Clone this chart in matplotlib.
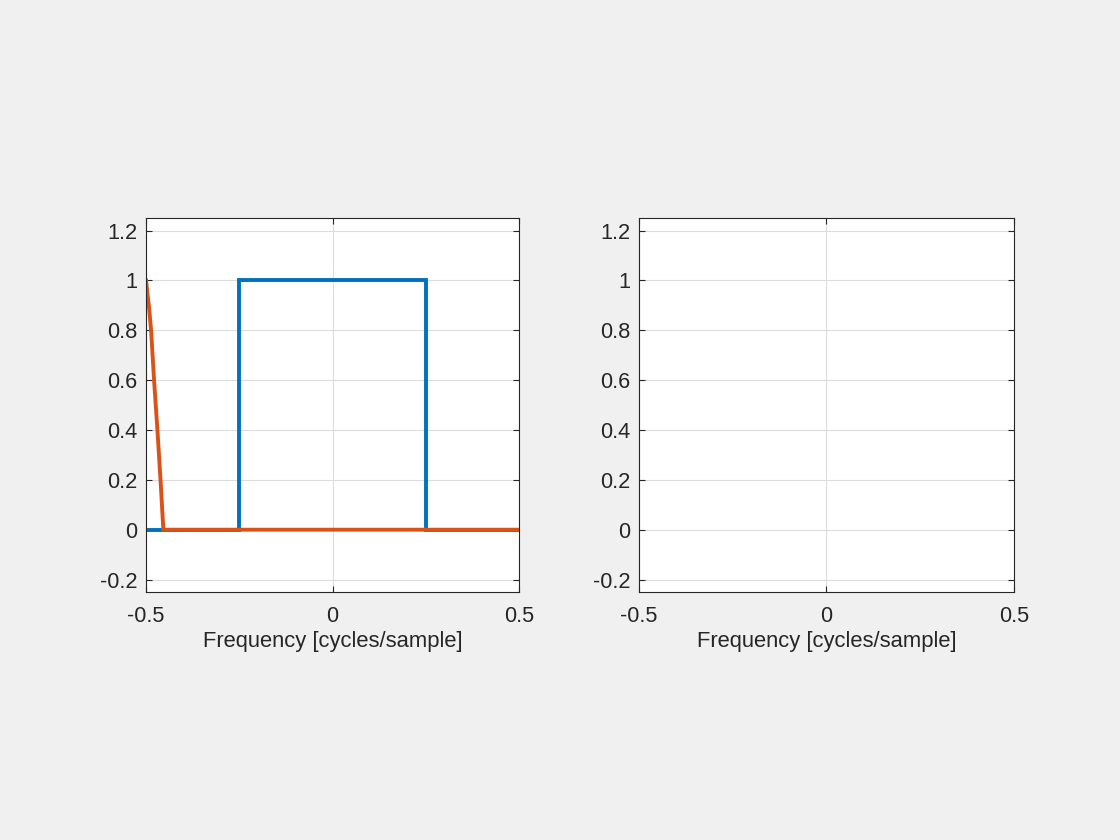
import matplotlib
matplotlib.use("Agg")
import matplotlib.pyplot as plt

# ideal band-pass (blue) outline
ideal_f = [-0.5, -0.25, -0.25, 0.25, 0.25, 0.5]
ideal_h = [0, 0, 1, 1, 0, 0]

# designed response (orange)
resp_f = [-0.5, -0.4985, -0.4965, -0.4925, -0.4865, -0.4785, -0.4695, -0.4612, -0.4536, 0.5]
resp_h = [1.0, 0.98, 0.95, 0.90, 0.80, 0.60, 0.40, 0.20, 0.0, 0.0]

x_ticks = [-0.5, 0, 0.5]
x_ticklabels = ["-0.5", "0", "0.5"]
y_ticks = [-0.2, 0, 0.2, 0.4, 0.6, 0.8, 1, 1.2]
y_ticklabels = ["-0.2", "0", "0.2", "0.4", "0.6", "0.8", "1", "1.2"]

BLUE = "#0072BD"
ORANGE = "#D95319"
DARK = "#262626"

plt.rcParams["font.family"] = ["Liberation Sans", "DejaVu Sans"]

fig = plt.figure(figsize=(11.2, 8.4), dpi=100, facecolor="#f0f0f0")
ax1 = fig.add_axes([0.1304, 0.2952, 0.333, 0.4452])
ax2 = fig.add_axes([0.5705, 0.2952, 0.3348, 0.4452])

ax1.plot(ideal_f, ideal_h, color=BLUE, lw=2.8, solid_joinstyle="miter")
ax1.plot(resp_f, resp_h, color=ORANGE, lw=2.8)

for ax in (ax1, ax2):
    ax.set_facecolor("white")
    ax.set_xlim(-0.5, 0.5)
    ax.set_ylim(-0.25, 1.25)
    ax.set_xticks(x_ticks)
    ax.set_xticklabels(x_ticklabels)
    ax.set_yticks(y_ticks)
    ax.set_yticklabels(y_ticklabels)
    ax.grid(True, color="#dcdcdc", lw=0.8)
    ax.set_axisbelow(True)
    ax.tick_params(direction="in", top=True, right=True, length=4,
                   width=0.8, colors=DARK, labelsize=15.7)
    ax.tick_params(axis="x", pad=10)
    ax.tick_params(axis="y", pad=6)
    for sp in ax.spines.values():
        sp.set_color(DARK)
        sp.set_linewidth(0.8)
    ax.set_xlabel("Frequency [cycles/sample]", fontsize=15.8, color=DARK, labelpad=3)

fig.savefig("out.png", dpi=100, facecolor=fig.get_facecolor())
